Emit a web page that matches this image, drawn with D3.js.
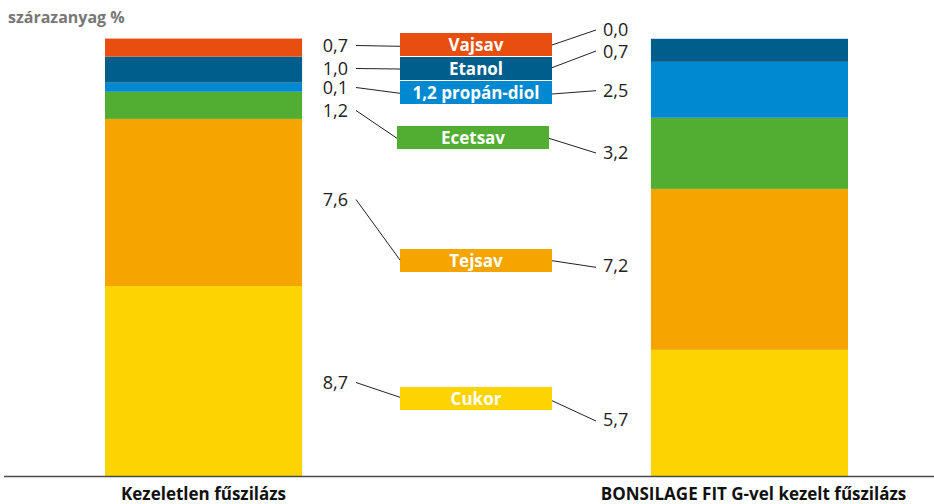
<!DOCTYPE html>
<html>
<head>
<meta charset="utf-8">
<script src="https://cdn.jsdelivr.net/npm/d3@7"></script>
<style>
  body { margin: 0; background: #fff; }
  svg { display: block; font-family: "Open Sans", sans-serif; }
</style>
</head>
<body>
<svg width="934" height="504"></svg>
<script>
// components, bottom to top
const components = ['Cukor', 'Tejsav', 'Ecetsav', '1,2 propán-diol', 'Etanol', 'Vajsav'];
const groups = ['Kezeletlen fűszilázs', 'BONSILAGE FIT G-vel kezelt fűszilázs'];
// printed labels
const labelsUntreated = ['8,7', '7,6', '1,2', '0,1', '1,0', '0,7'];
const labelsTreated = ['5,7', '7,2', '3,2', '2,5', '0,7', '0,0'];
// segment sizes as drawn in the picture
const untreated = [8.39, 7.38, 1.2, 0.4, 1.15, 0.8];
const treated = [5.57, 7.11, 3.14, 2.47, 1.02, 0];
const colors = ['#FDD400', '#F6A500', '#52AE32', '#0089D0', '#005E8C', '#E84E0F'];
// label box rows (top of box, in px) and where the left / right labels sit
const boxTop = [387, 249, 126, 81, 57, 33];
const leftLabelY = [383, 200, 111, 88, 69, 46];
const rightLabelY = [420, 266, 153, 91, 52, 30];

const svg = d3.select('svg');

const x = d3.scaleBand().domain(groups).range([105, 848]).paddingInner(0.639).paddingOuter(0);
const y = d3.scaleLinear().domain([0, 19.3]).range([476, 39]);
const color = d3.scaleOrdinal().domain(components).range(colors);

const rows = [untreated, treated];
const stack = d3.stack().keys(d3.range(components.length))(rows);

// bars
svg.append('g').selectAll('g')
  .data(stack)
  .join('g')
    .attr('fill', (d, i) => colors[i])
  .selectAll('rect')
  .data(d => d)
  .join('rect')
    .attr('x', (d, i) => x(groups[i]))
    .attr('width', x.bandwidth())
    .attr('y', d => y(d[1]))
    .attr('height', d => y(d[0]) - y(d[1]));

// x axis line + labels
svg.append('line')
  .attr('x1', 4).attr('x2', 934)
  .attr('y1', 476.5).attr('y2', 476.5)
  .attr('stroke', '#4a4a4a').attr('stroke-width', 1.5);

svg.append('g').selectAll('text')
  .data(groups)
  .join('text')
    .attr('x', d => x(d) + x.bandwidth() / 2 + (d === groups[1] ? 4 : 0))
    .attr('y', 500)
    .attr('text-anchor', 'middle')
    .attr('font-weight', 700)
    .attr('font-size', 17)
    .attr('fill', '#111')
    .text(d => d);

// unit label
svg.append('text')
  .attr('x', 8).attr('y', 23)
  .attr('font-weight', 700)
  .attr('font-size', 16)
  .attr('fill', '#777')
  .text('szárazanyag %');

// middle legend boxes
const boxH = 23;
const box = svg.append('g').selectAll('g')
  .data(components)
  .join('g')
    .attr('transform', (d, i) => `translate(${d === 'Ecetsav' ? 397 : 400},${boxTop[i]})`);

box.append('rect')
  .attr('width', 152)
  .attr('height', boxH)
  .attr('fill', d => color(d));

box.append('text')
  .attr('x', 76)
  .attr('y', boxH / 2)
  .attr('dy', '0.36em')
  .attr('text-anchor', 'middle')
  .attr('font-weight', 700)
  .attr('font-size', 17)
  .attr('fill', '#fff')
  .text(d => d);

// leader lines and values
const lead = svg.append('g').attr('stroke', '#222').attr('stroke-width', 1).attr('fill', 'none');
const leftEnd = [397.3, 260, 138.3, 93.3, 69, 46.3];
const rightStart = [400.7, 260.7, 138.3, 94, 67.7, 45];
const rightEnd = [421, 267.3, 153, 90.7, 51, 30];
components.forEach((c, i) => {
  const bx = c === 'Ecetsav' ? 397 : 400;
  lead.append('line')
    .attr('x1', 356).attr('y1', leftLabelY[i] - 0.5)
    .attr('x2', bx).attr('y2', leftEnd[i]);
  lead.append('line')
    .attr('x1', bx + 152).attr('y1', rightStart[i])
    .attr('x2', 596).attr('y2', rightEnd[i]);
});

svg.append('g').selectAll('text')
  .data(labelsUntreated)
  .join('text')
    .attr('x', 348)
    .attr('y', (d, i) => leftLabelY[i])
    .attr('dy', '0.36em')
    .attr('text-anchor', 'end')
    .attr('font-size', 18)
    .attr('fill', '#222')
    .text(d => d);

svg.append('g').selectAll('text')
  .data(labelsTreated)
  .join('text')
    .attr('x', 603)
    .attr('y', (d, i) => rightLabelY[i])
    .attr('dy', '0.36em')
    .attr('font-size', 18)
    .attr('fill', '#222')
    .text(d => d);
</script>
</body>
</html>
